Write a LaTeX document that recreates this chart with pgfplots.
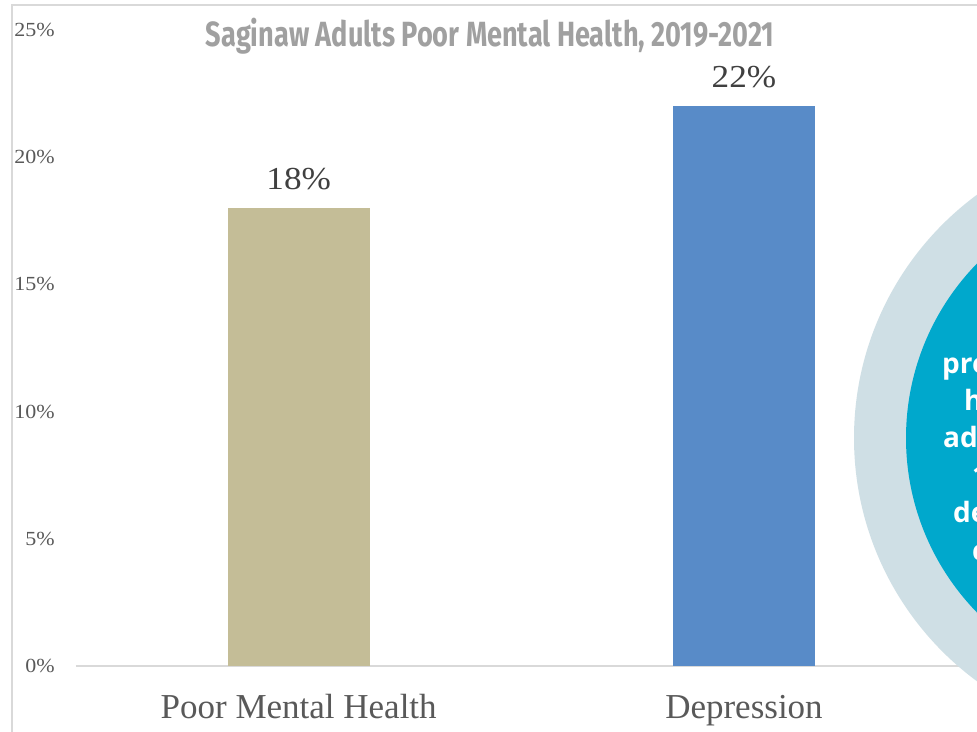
\documentclass[border=0pt]{standalone}
\usepackage{fontspec}
\setmainfont{Liberation Serif}
\newfontfamily\numfont[FakeStretch=1.1]{Liberation Serif}
\newfontfamily\titlefont[FakeStretch=0.775]{Fira Sans}
\newfontfamily\circfont{Open Sans}
\usepackage{pgfplots}
\pgfplotsset{compat=1.18}
\definecolor{tanbar}{HTML}{C4BD97}
\definecolor{bluebar}{HTML}{588BC8}
\definecolor{txtgray}{HTML}{595959}
\definecolor{lblgray}{HTML}{404040}
\definecolor{titlegray}{HTML}{A0A0A0}
\definecolor{ringcol}{HTML}{CFDFE5}
\definecolor{tealcol}{HTML}{00A8CC}
\definecolor{framecol}{HTML}{D9D9D9}
\begin{document}
\begin{tikzpicture}[x=1pt,y=1pt]
\useasboundingbox (0,0) rectangle (977,-731);
\clip (0,0) rectangle (977,-731);
\fill[white] (0,0) rectangle (977,-731);
\draw[framecol, line width=1.5pt] (12,-1000) -- (12,-5) -- (1400,-5);
\begin{axis}[
  at={(76pt,-666pt)}, anchor=south west,
  width=1336pt, height=636pt, scale only axis,
  xmin=-0.5, xmax=2.5, ymin=0, ymax=25,
  axis line style={draw=none},
  ytick={0,5,...,25}, xtick={0,1},
  xticklabels={Poor Mental Health, Depression},
  major tick length=0pt,
  /pgf/number format/assume math mode=true,
  yticklabel={\pgfmathprintnumber{\tick}\%},
  yticklabel style={font=\numfont\fontsize{20}{24}\selectfont, text=txtgray, anchor=east, inner sep=0pt, xshift=-21pt},
  xticklabel style={font=\fontsize{35}{42}\selectfont, text=txtgray, anchor=base, inner sep=0pt, yshift=-52pt},
  ybar, bar width=142pt,
  nodes near coords={\pgfmathprintnumber{\pgfplotspointmeta}\%},
  nodes near coords style={font=\numfont\fontsize{32}{38}\selectfont, text=lblgray, anchor=base, inner sep=0pt, yshift=19pt},
]
\draw[framecol, line width=1.5pt] (axis cs:-0.5,0) -- (axis cs:2.5,0);
\addplot[fill=tanbar, draw=none, bar shift=0pt] coordinates {(0,18)};
\addplot[fill=bluebar, draw=none, bar shift=0pt] coordinates {(1,22)};
\end{axis}
\node[font=\titlefont\bfseries\fontsize{35}{42}\selectfont, text=titlegray, anchor=base, inner sep=0pt] at (490,-46) {Saginaw Adults Poor Mental Health, 2019-2021};
\fill[ringcol] (1156,-438) circle[radius=302];
\fill[tealcol] (1156,-438) circle[radius=250];
\begin{scope}[every node/.style={font=\circfont\bfseries\fontsize{28}{34}\selectfont, text=white, anchor=base west, inner sep=0pt}]
\node at (942,-373) {prevalence of poor};
\node at (964,-410) {health among};
\node at (943,-447) {adults in Saginaw};
\node at (972,-485) {1 in 5 adults};
\node at (953,-522) {depression};
\node at (972,-560) {compared};
\end{scope}
\end{tikzpicture}
\end{document}
